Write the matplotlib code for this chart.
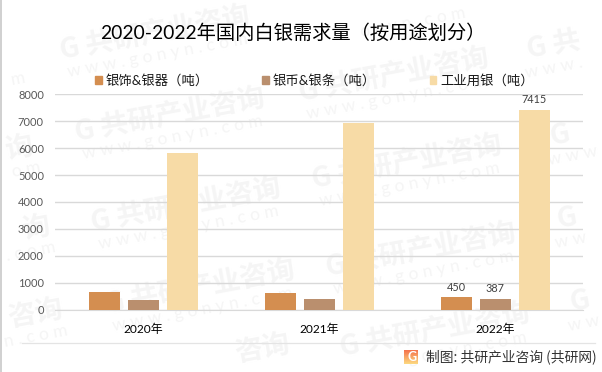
import numpy as np
import matplotlib
matplotlib.use("Agg")
import matplotlib.pyplot as plt
from matplotlib.lines import Line2D
from matplotlib.patches import Patch

FONT = ['Lato', 'Noto Sans CJK SC', 'DejaVu Sans']
CJK = ['Noto Sans CJK SC', 'DejaVu Sans']
plt.rcParams['font.family'] = FONT

title = "2020-2022年国内白银需求量（按用途划分）"
years = ["2020年", "2021年", "2022年"]
series_names = ["银饰&银器（吨）", "银币&银条（吨）", "工业用银（吨）"]
jewelry = [640, 605, 450]
coins = [345, 385, 387]
industrial = [5816, 6930, 7415]
colors = ["#D48E50", "#BA8F6E", "#F7DBA6"]
yticks = [0, 1000, 2000, 3000, 4000, 5000, 6000, 7000, 8000]
footer = "制图: 共研产业咨询 (共研网)"
wm_main = "G 共研产业咨询"
wm_sub = "w w w . g o n y n . c o m"

W, H = 602, 372
fig = plt.figure(figsize=(W / 100, H / 100), dpi=100, facecolor="white")

wm_color = "#F5F5F5"
ROT = 10.5


def wm(s, px, py, ha, big=True):
    fig.text(px / W, 1 - py / H, s, fontsize=20 if big else 12.5, fontweight="bold" if big else "normal",
             color=wm_color, rotation=ROT, rotation_mode="anchor", ha=ha, va="center", zorder=-5,
             family=CJK if big else FONT)


# whole watermark tiles (pixel centres)
for cx, cy in [(155, 33), (170, 115), (186, 205), (200, 287), (394, 75), (407, 162), (421, 250), (435, 330)]:
    wm(wm_main, cx, cy, "center")
    if cy + 22 < 345:
        wm(wm_sub, cx + 3, cy + 22, "center", big=False)

# the parts of tiles that the picture's edges leave visible
for s, ex, ey in [("询", 33, 147), ("询", 50, 227), ("咨询", 63, 310), ("咨询", 290, 345)]:
    wm(s, ex, ey, "right")
for s, ex, ey in [("m", 25, 77), ("o m", 40, 167), (". c o m", 55, 247), ("n . c o m", 68, 330),
                  ("o n y n . c o m", 465, 13), ("g o n y n . c o m", 527, 337)]:
    wm(s, ex, ey, "right", big=False)
for s, sx, sy in [("G 共", 527, 50), ("G", 550, 137), ("G", 557, 220), ("G", 570, 303)]:
    wm(s, sx, sy, "left")
for s, sx, sy in [("w w w .", 525, 73), ("w w w", 548, 160), ("w w", 555, 243), ("w w", 568, 326)]:
    wm(s, sx, sy, "left", big=False)

ax = fig.add_axes([55 / W, 1 - 309.5 / H, 528 / W, 215.2 / H])
ax.patch.set_alpha(0)
x = np.arange(len(years))
w = 31 / 176
step = 39 / 176
b1 = ax.bar(x - step, jewelry, w, color=colors[0], label=series_names[0], zorder=3)
b2 = ax.bar(x, coins, w, color=colors[1], label=series_names[1], zorder=3)
b3 = ax.bar(x + step, industrial, w, color=colors[2], label=series_names[2], zorder=3)

for bars in (b1, b2, b3):
    rect = bars[2]
    ax.annotate(f"{int(rect.get_height())}", (rect.get_x() + rect.get_width() / 2, rect.get_height()),
                xytext=(0, 3.5), textcoords="offset points", ha="center", va="bottom",
                fontsize=7.8, color="#404040")

ax.set_xlim(-0.5, 2.5)
ax.set_ylim(0, 8000)
ax.set_yticks(yticks)
ax.set_xticks(x)
ax.set_xticklabels(years, fontsize=8.6, color="black")
ax.tick_params(axis="y", length=0, labelsize=8, labelcolor="#595959", pad=8)
ax.tick_params(axis="x", length=0, pad=10)
ax.grid(axis="y", color="#D9D9D9", linewidth=1.0, zorder=1)
ax.set_axisbelow(True)
for s in ("top", "right", "left"):
    ax.spines[s].set_visible(False)
ax.spines["bottom"].set_color("#D9D9D9")

fig.text(293 / W, 1 - 33 / H, title, fontsize=13.9, color="black", ha="center", va="center")

leg = fig.legend(handles=[Patch(color=c, label=n) for c, n in zip(colors, series_names)],
                 loc="center left", bbox_to_anchor=(95 / W, 1 - 80 / H), ncol=3, frameon=False,
                 fontsize=9.6, handlelength=0.52, handleheight=0.52, handletextpad=0.28,
                 columnspacing=4.0, borderpad=0, borderaxespad=0)
for t in leg.get_texts():
    t.set_color("#1A1A1A")

# frame furniture
fig.add_artist(Line2D([22 / W, 595 / W], [1 - 342.5 / H] * 2, color="#E4E4E4", lw=0.9))
fig.add_artist(Line2D([0.7 / W] * 2, [0, 1], color="#D0D0D0", lw=1.4))

# footer logo and text
logo = fig.add_axes([404 / W, 1 - 364 / H, 14 / W, 14 / H])
grad = np.linspace(0, 1, 32)[:, None]
c0, c1 = np.array([0.96, 0.45, 0.30]), np.array([0.99, 0.85, 0.50])
logo.imshow((c0[None, None, :] * (1 - grad[..., None]) + c1[None, None, :] * grad[..., None]),
            aspect="auto", extent=(0, 1, 0, 1))
logo.text(0.55, 0.47, "G", color="white", fontsize=9, fontweight="bold", ha="center", va="center")
logo.axis("off")
fig.text(426 / W, 1 - 357 / H, footer, fontsize=9.95, color="#333333", ha="left", va="center", family=CJK)

fig.savefig("out.png", dpi=100, facecolor="white")
